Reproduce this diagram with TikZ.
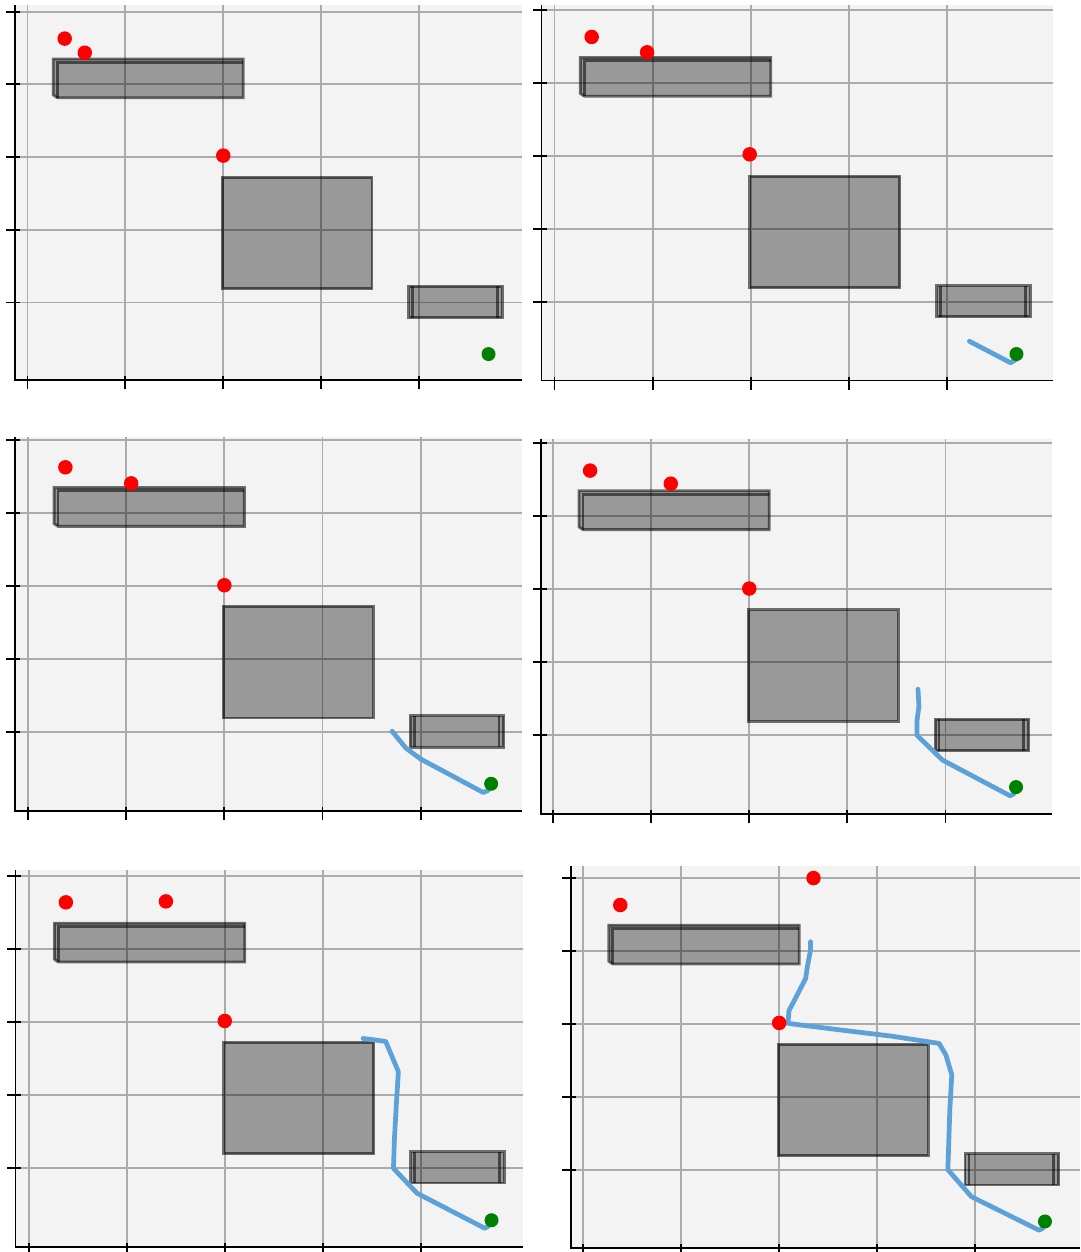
\documentclass[tikz,border=0pt]{standalone}
\definecolor{bgc}{HTML}{F3F3F3}
\definecolor{gridc}{HTML}{ABABAB}
\definecolor{pathc}{RGB}{92,162,216}
\definecolor{goalc}{HTML}{008000}
\tikzset{
  gridl/.style={draw=gridc, line width=1.1pt},
  axl/.style={draw=black, line width=1.1pt},
  obfill/.style={fill=black, fill opacity=0.37},
  obedge/.style={draw=black, draw opacity=0.55, line width=1.6pt, line join=miter},
  reddot/.style={circle, fill=red, inner sep=0pt, minimum size=0.29cm},
  greendot/.style={circle, fill=goalc, inner sep=0pt, minimum size=0.28cm},
  bluepath/.style={draw=pathc, line width=2.7pt, line join=round, line cap=round}
}
% #1 gx0, #2 gy0, #3 dx, #4 dy, #5 axis left, #6 axis bottom, #7 right edge, #8 top edge
\newcommand\panelbg[8]{%
  \fill[bgc] (#5,#8) rectangle (#7,#6);
  \foreach \i in {0,...,4}{%
    \pgfmathsetmacro\gx{#1+\i*#3}%
    \pgfmathsetmacro\gy{#2+\i*#4}%
    \draw[gridl] (\gx,#8) -- (\gx,#6);
    \draw[gridl] (#5,\gy) -- (#7,\gy);
  }%
}
\newcommand\panelaxes[8]{%
  \draw[axl] (#5,#8) -- (#5,#6) -- (#7,#6);
  \foreach \i in {0,...,4}{%
    \pgfmathsetmacro\gx{#1+\i*#3}%
    \pgfmathsetmacro\gy{#2+\i*#4}%
    \draw[axl] (\gx,#6-4) -- (\gx,#6+9);
    \draw[axl] (#5-8.5,\gy) -- (#5+5.5,\gy);
  }%
}
\newcommand\obstacles{%
  \fill[obfill] (0.264,0.651) -- (2.204,0.651) -- (2.204,1.183) -- (0.304,1.183) -- (0.264,1.146) -- cycle;
  \draw[obedge] (0.264,0.651) -- (2.204,0.651) -- (2.204,1.183) -- (0.304,1.183) -- (0.264,1.146) -- cycle;
  \draw[obedge] (0.304,1.183) -- (0.304,0.696) -- (2.204,0.696);
  \fill[obfill] (1.99,2.28) rectangle (3.52,3.81);
  \draw[obedge] (1.99,2.28) rectangle (3.52,3.81);
  \fill[obfill] (3.895,3.78) rectangle (4.85,4.21);
  \draw[obedge] (3.895,3.78) rectangle (4.85,4.21);
  \draw[obedge] (3.935,3.78) -- (3.935,4.21);
  \draw[obedge] (4.80,3.78) -- (4.80,4.21);
}
\begin{document}
\begin{tikzpicture}[x=0.02cm,y=-0.02cm]
\useasboundingbox (0,0) rectangle (1080,1252);
\fill[white] (0,0) rectangle (1080,1252);

% ---------- Panel 1 ----------
\panelbg{27.5}{11.7}{97.9}{72.7}{14.8}{380}{522}{5}
\begin{scope}[shift={(27.5,11.7)},x=1.958cm,y=-1.454cm]
  \obstacles
  \node[reddot] (a1) at (0.38,0.37) {};
  \node[reddot] (a2) at (0.585,0.564) {};
  \node[reddot] (a3) at (2.0,1.98) {};
  \node[greendot] (ag) at (4.71,4.71) {};
\end{scope}
\panelaxes{27.5}{11.7}{97.9}{72.7}{14.8}{380}{522}{5}

% ---------- Panel 2 ----------
\panelbg{554.5}{10}{98.1}{72.9}{541.5}{380.5}{1053}{5}
\begin{scope}[shift={(554.5,10)},x=1.962cm,y=-1.458cm]
  \obstacles
  \draw[bluepath] (4.23,4.545) -- (4.65,4.84) -- (4.71,4.79);
  \node[reddot] (b1) at (0.379,0.37) {};
  \node[reddot] (b2) at (0.944,0.58) {};
  \node[reddot] (b3) at (1.99,1.98) {};
  \node[greendot] (bg) at (4.71,4.72) {};
\end{scope}
\panelaxes{554.5}{10}{98.1}{72.9}{541.5}{380.5}{1053}{5}

% ---------- Panel 3 ----------
\panelbg{28.2}{440}{98.1}{73}{14.8}{810.7}{522}{437}
\begin{scope}[shift={(28.2,440)},x=1.962cm,y=-1.46cm]
  \obstacles
  \draw[bluepath] (3.71,3.99) -- (3.85,4.22) -- (4.0,4.37) -- (4.64,4.83) -- (4.69,4.80);
  \node[reddot] (c1) at (0.379,0.374) {};
  \node[reddot] (c2) at (1.05,0.594) {};
  \node[reddot] (c3) at (2.0,1.99) {};
  \node[greendot] (cg) at (4.72,4.71) {};
\end{scope}
\panelaxes{28.2}{440}{98.1}{73}{14.8}{810.7}{522}{437}

% ---------- Panel 4 ----------
\panelbg{553.1}{443.3}{98.1}{73}{541}{814.3}{1052}{439}
\begin{scope}[shift={(553.1,443.3)},x=1.962cm,y=-1.46cm]
  \obstacles
  \draw[bluepath] (3.72,3.37) -- (3.73,3.6) -- (3.71,3.8) -- (3.71,4.0) -- (3.97,4.34) -- (4.66,4.83) -- (4.70,4.80);
  \node[reddot] (d1) at (0.377,0.374) {};
  \node[reddot] (d2) at (1.20,0.553) {};
  \node[reddot] (d3) at (2.0,1.99) {};
  \node[greendot] (dg) at (4.72,4.71) {};
\end{scope}
\panelaxes{553.1}{443.3}{98.1}{73}{541}{814.3}{1052}{439}

% ---------- Panel 5 ----------
\panelbg{28.6}{875.7}{98.1}{73}{15.5}{1246.7}{523.4}{870}
\begin{scope}[shift={(28.6,875.7)},x=1.962cm,y=-1.46cm]
  \obstacles
  \draw[bluepath] (3.41,2.23) -- (3.64,2.27) -- (3.70,2.46) -- (3.77,2.685) -- (3.75,3.12) -- (3.73,3.6) -- (3.72,4.01) -- (3.96,4.35) -- (4.65,4.83) -- (4.69,4.80);
  \node[reddot] (e1) at (0.38,0.365) {};
  \node[reddot] (e2) at (1.40,0.352) {};
  \node[reddot] (e3) at (2.0,1.99) {};
  \node[greendot] (eg) at (4.72,4.72) {};
\end{scope}
\panelaxes{28.6}{875.7}{98.1}{73}{15.5}{1246.7}{523.4}{870}

% ---------- Panel 6 ----------
\panelbg{583}{877.7}{98.1}{73}{570.7}{1248.3}{1080}{866}
\begin{scope}[shift={(583,877.7)},x=1.962cm,y=-1.46cm]
  \obstacles
  \draw[bluepath] (2.32,0.877) -- (2.32,0.99) -- (2.29,1.20) -- (2.27,1.38) -- (2.14,1.72) -- (2.10,1.82) -- (2.09,1.995) -- (2.23,2.02) -- (2.65,2.09) -- (3.14,2.17) -- (3.63,2.27) -- (3.70,2.43) -- (3.76,2.70) -- (3.74,3.18) -- (3.72,4.0) -- (3.96,4.37) -- (4.65,4.83) -- (4.69,4.80);
  \node[reddot] (f1) at (0.38,0.374) {};
  \node[reddot] (f2) at (2.35,0.005) {};
  \node[reddot] (f3) at (2.0,1.99) {};
  \node[greendot] (fg) at (4.71,4.71) {};
\end{scope}
\panelaxes{583}{877.7}{98.1}{73}{570.7}{1248.3}{1080}{866}
\end{tikzpicture}
\end{document}
